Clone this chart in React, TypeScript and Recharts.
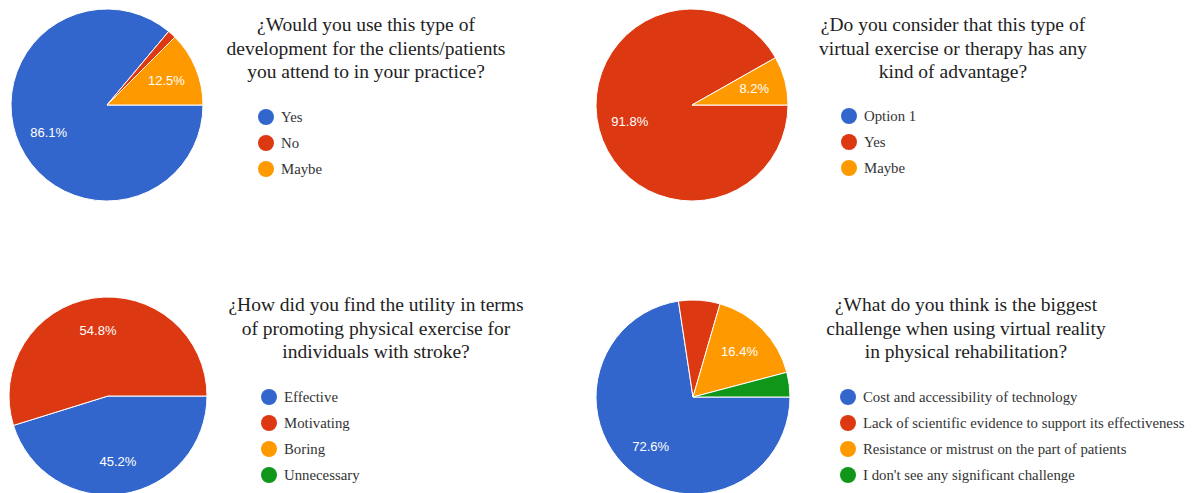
import React from 'react';
import { PieChart, Pie, Cell } from 'recharts';

const COLORS = ['#3366cc', '#dc3912', '#ff9900', '#109618'];

const q1Title = ['¿Would you use this type of', 'development for the clients/patients', 'you attend to in your practice?'];
const q1Labels = ['Yes', 'No', 'Maybe'];
const q1Values = [86.1, 1.4, 12.5];

const q2Title = ['¿Do you consider that this type of', 'virtual exercise or therapy has any', 'kind of advantage?'];
const q2Labels = ['Option 1', 'Yes', 'Maybe'];
const q2Values = [0, 91.8, 8.2];

const q3Title = ['¿How did you find the utility in terms', 'of promoting physical exercise for', 'individuals with stroke?'];
const q3Labels = ['Effective', 'Motivating', 'Boring', 'Unnecessary'];
const q3Values = [45.2, 54.8, 0, 0];

const q4Title = ['¿What do you think is the biggest', 'challenge when using virtual reality', 'in physical rehabilitation?'];
const q4Labels = [
  'Cost and accessibility of technology',
  'Lack of scientific evidence to support its effectiveness',
  'Resistance or mistrust on the part of patients',
  "I don't see any significant challenge",
];
const q4Values = [72.6, 6.9, 16.4, 4.1];

const RADIAN = Math.PI / 180;
const SERIF = '"Liberation Serif", "Times New Roman", serif';

const renderLabel = (props: any) => {
  const { cx, cy, midAngle, outerRadius, value } = props;
  if (value < 7.5) return null;
  const r = outerRadius * 0.67;
  const x = cx + r * Math.cos(-midAngle * RADIAN);
  const y = cy + r * Math.sin(-midAngle * RADIAN);
  return (
    <text
      x={x}
      y={y}
      fill="#fff"
      textAnchor="middle"
      dominantBaseline="central"
      style={{ fontFamily: '"Liberation Sans", Arial, sans-serif', fontSize: 13 }}
    >
      {value.toFixed(1)}%
    </text>
  );
};

interface PanelProps {
  left: number;
  top: number;
  title: string[];
  labels: string[];
  values: number[];
  cx: number;
  cy: number;
  radius: number;
  titleX: number;
  titleY: number;
  legendX: number;
  legendY: number;
}

const Panel: React.FC<PanelProps> = ({ left, top, title, labels, values, cx, cy, radius, titleX, titleY, legendX, legendY }) => {
  const data = labels
    .map((name, i) => ({ name, value: values[i], color: COLORS[i] }))
    .filter(d => d.value > 0);

  return (
    <div style={{ position: 'absolute', left, top, width: 596, height: 247 }}>
      <PieChart width={596} height={247} margin={{ top: 0, right: 0, bottom: 0, left: 0 }}>
        <Pie
          data={data}
          dataKey="value"
          nameKey="name"
          cx={cx}
          cy={cy}
          outerRadius={radius}
          startAngle={0}
          endAngle={-360}
          stroke="#fff"
          strokeWidth={1}
          label={renderLabel}
          labelLine={false}
          isAnimationActive={false}
        >
          {data.map(d => (
            <Cell key={d.name} fill={d.color} />
          ))}
        </Pie>
      </PieChart>
      <div
        style={{
          position: 'absolute',
          left: titleX - 200,
          width: 400,
          top: titleY,
          textAlign: 'center',
          fontFamily: SERIF,
          fontSize: 19.5,
          lineHeight: '23.5px',
          color: '#222',
          whiteSpace: 'nowrap',
        }}
      >
        {title.map(line => (
          <div key={line}>{line}</div>
        ))}
      </div>
      <div style={{ position: 'absolute', left: legendX - 8, top: legendY - 13 }}>
        {labels.map((name, i) => (
          <div key={name} style={{ display: 'flex', alignItems: 'center', height: 26 }}>
            <span
              style={{
                width: 16,
                height: 16,
                borderRadius: '50%',
                background: COLORS[i],
                display: 'inline-block',
                marginRight: 7,
              }}
            />
            <span style={{ fontFamily: SERIF, fontSize: 14.8, color: '#333', whiteSpace: 'nowrap' }}>{name}</span>
          </div>
        ))}
      </div>
    </div>
  );
};

export default function App() {
  return (
    <div style={{ position: 'absolute', left: 0, top: 0, width: 1193, height: 493, background: '#fff', overflow: 'hidden' }}>
      <Panel left={0} top={0} title={q1Title} labels={q1Labels} values={q1Values}
        cx={107} cy={105} radius={96} titleX={366} titleY={13} legendX={266} legendY={117} />
      <Panel left={596} top={0} title={q2Title} labels={q2Labels} values={q2Values}
        cx={96} cy={105} radius={96} titleX={357} titleY={13} legendX={253} legendY={116} />
      <Panel left={0} top={247} title={q3Title} labels={q3Labels} values={q3Values}
        cx={108} cy={149} radius={99} titleX={376} titleY={46} legendX={269} legendY={150} />
      <Panel left={596} top={247} title={q4Title} labels={q4Labels} values={q4Values}
        cx={97} cy={150} radius={97} titleX={370} titleY={46} legendX={252} legendY={150} />
    </div>
  );
}
